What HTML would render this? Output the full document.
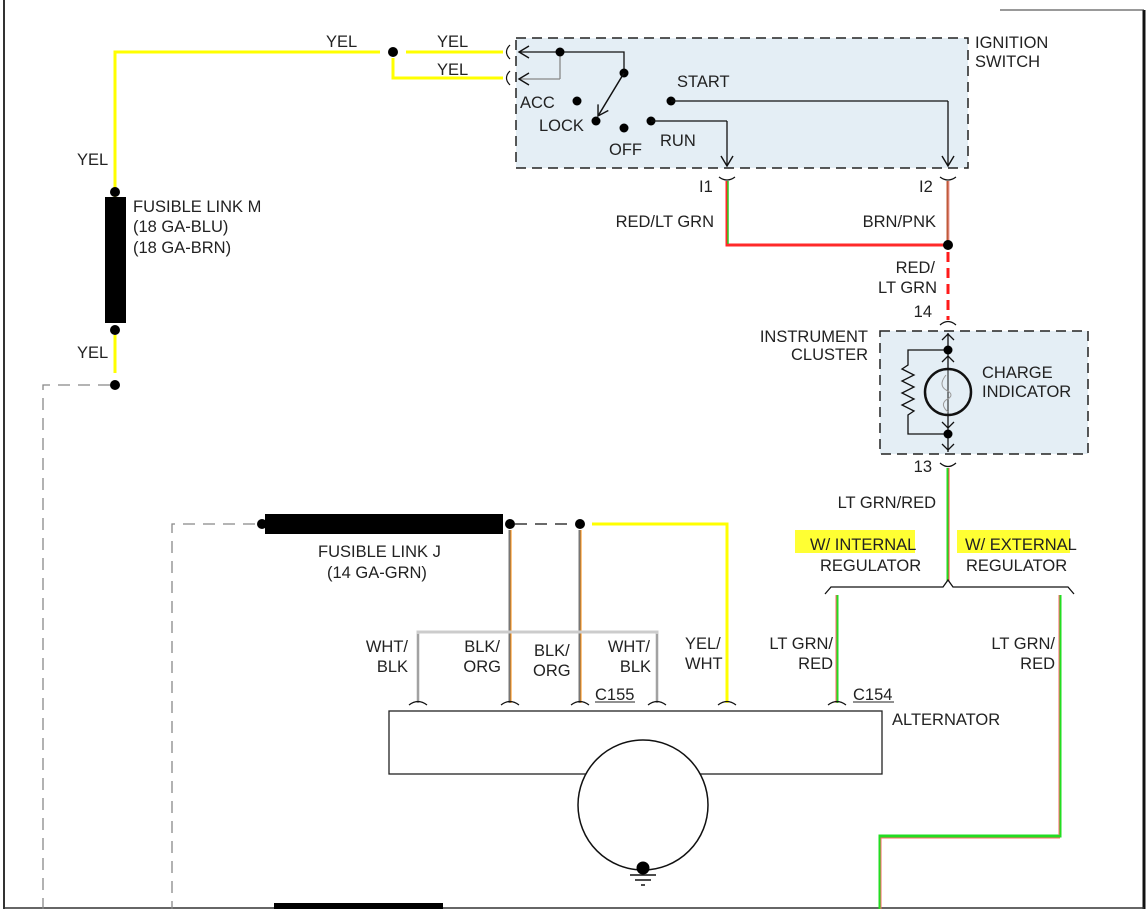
<!DOCTYPE html>
<html><head><meta charset="utf-8"><style>
html,body{margin:0;padding:0;background:#fff}
svg{display:block}
text{font-family:"Liberation Sans",sans-serif;font-size:16.5px;fill:#222}
</style></head><body>
<svg width="1148" height="909" viewBox="0 0 1148 909" xmlns="http://www.w3.org/2000/svg">
<defs>
<marker id="ar" markerWidth="14" markerHeight="14" refX="11" refY="7" orient="auto" markerUnits="userSpaceOnUse">
<path d="M1,1 L11,7 L1,13" fill="none" stroke="#111" stroke-width="1.4"/></marker>
</defs>
<!-- frame -->
<line x1="4" y1="0" x2="4" y2="909" stroke="#333" stroke-width="2"/>
<line x1="1144" y1="10" x2="1144" y2="909" stroke="#111" stroke-width="3"/>
<line x1="1000" y1="10" x2="1144" y2="10" stroke="#333" stroke-width="1"/>
<line x1="4" y1="908" x2="1144" y2="908" stroke="#333" stroke-width="1.5"/>
<rect x="274" y="903" width="169" height="6" fill="#000"/>

<!-- yellow top wires -->
<polyline points="115,197 115,52 380,52" fill="none" stroke="#ffff00" stroke-width="3"/>
<line x1="406" y1="52" x2="503" y2="52" stroke="#ffff00" stroke-width="3"/>
<polyline points="393,58 393,78 503,78" fill="none" stroke="#ffff00" stroke-width="3"/>
<circle cx="393" cy="52" r="5" fill="#000"/>
<path d="M510,45 Q503,52 510,59 M510,71 Q503,78 510,85" fill="none" stroke="#111" stroke-width="1.2"/>
<text x="326" y="47">YEL</text><text x="437" y="47">YEL</text><text x="437" y="75">YEL</text>
<text x="77" y="165">YEL</text><text x="77" y="358">YEL</text>

<!-- fusible link M -->
<rect x="105" y="197" width="21" height="126" fill="#000"/>
<circle cx="115" cy="192" r="5" fill="#000"/><circle cx="115" cy="330" r="5" fill="#000"/>
<line x1="115" y1="335" x2="115" y2="373" stroke="#ffff00" stroke-width="3"/>
<circle cx="115" cy="385" r="5" fill="#000"/>
<polyline points="110,385 43,385 43,909" fill="none" stroke="#888" stroke-width="1.3" stroke-dasharray="12,8"/>
<text x="133" y="212">FUSIBLE LINK M</text><text x="133" y="232">(18 GA-BLU)</text><text x="133" y="253">(18 GA-BRN)</text>

<!-- ignition switch -->
<rect x="516" y="38" width="452" height="130" fill="#e4eef5" stroke="#222" stroke-width="1.5" stroke-dasharray="10,6"/>
<text x="975" y="48">IGNITION</text><text x="975" y="67">SWITCH</text>
<line x1="560" y1="52" x2="519" y2="52" stroke="#111" stroke-width="1.3" marker-end="url(#ar)"/>
<polyline points="560,52 624,52 624,73" fill="none" stroke="#111" stroke-width="1.3"/>
<polyline points="560,52 560,79" fill="none" stroke="#888" stroke-width="1.3"/>
<line x1="560" y1="79" x2="519" y2="79" stroke="#888" stroke-width="1.3" marker-end="url(#ar)"/>
<circle cx="560" cy="52" r="4.5" fill="#000"/><circle cx="624" cy="73" r="4.5" fill="#000"/>
<line x1="624" y1="73" x2="598" y2="116" stroke="#111" stroke-width="1.5" marker-end="url(#ar)"/>
<circle cx="596" cy="121" r="4.5" fill="#000"/>
<circle cx="577" cy="101" r="4.5" fill="#000"/><circle cx="624" cy="128" r="4.5" fill="#000"/>
<circle cx="651" cy="121" r="4.5" fill="#000"/><circle cx="671" cy="101" r="4.5" fill="#000"/>
<polyline points="671,101 948,101" fill="none" stroke="#111" stroke-width="1.3"/>
<line x1="948" y1="101" x2="948" y2="166" stroke="#111" stroke-width="1.3" marker-end="url(#ar)"/>
<polyline points="651,121 727,121" fill="none" stroke="#111" stroke-width="1.3"/>
<line x1="727" y1="121" x2="727" y2="166" stroke="#111" stroke-width="1.3" marker-end="url(#ar)"/>
<text x="520" y="108">ACC</text><text x="539" y="131">LOCK</text><text x="609" y="155">OFF</text>
<text x="660" y="146">RUN</text><text x="677" y="87">START</text>

<!-- I1 / I2 -->
<path d="M719,177 Q727,183 735,177 M940,177 Q948,183 956,177" fill="none" stroke="#111" stroke-width="1.2"/>
<text x="699" y="192">I1</text><text x="919" y="192">I2</text>
<polyline points="727,181 727,245 948,245" fill="none" stroke="#ff2a2a" stroke-width="3"/>
<polyline points="728,181 728,244" fill="none" stroke="#22cc22" stroke-width="1.5"/>
<line x1="948" y1="181" x2="948" y2="245" stroke="#c05a3a" stroke-width="3"/>
<line x1="949" y1="181" x2="949" y2="245" stroke="#f0a0a0" stroke-width="1"/>
<circle cx="948" cy="245" r="5" fill="#000"/>
<line x1="948" y1="252" x2="948" y2="320" stroke="#ff1a1a" stroke-width="3" stroke-dasharray="10,6"/>
<text x="714" y="227" text-anchor="end">RED/LT GRN</text><text x="936" y="227" text-anchor="end">BRN/PNK</text>
<text x="935" y="273" text-anchor="end">RED/</text><text x="937" y="293" text-anchor="end">LT GRN</text>
<text x="932" y="317" text-anchor="end">14</text>
<path d="M940,325 Q948,318 956,325" fill="none" stroke="#111" stroke-width="1.2"/>

<!-- instrument cluster -->
<rect x="880" y="331" width="208" height="123" fill="#e4eef5" stroke="#222" stroke-width="1.5" stroke-dasharray="10,6"/>
<text x="868" y="342" text-anchor="end">INSTRUMENT</text><text x="868" y="360" text-anchor="end">CLUSTER</text>
<line x1="948" y1="333" x2="948" y2="452" stroke="#111" stroke-width="1.3"/>
<path d="M942,340 L948,334 L954,340 M942,362 L948,356 L954,362 M942,422 L948,428 L954,422 M942,444 L948,450 L954,444" fill="none" stroke="#111" stroke-width="1.3"/>
<circle cx="948" cy="392" r="23" fill="#e4eef5" stroke="#111" stroke-width="2.5"/>
<line x1="948" y1="369" x2="948" y2="415" stroke="#111" stroke-width="1"/>
<path d="M946,375 Q938,385 946,390 Q956,395 946,400 Q940,405 948,412" fill="none" stroke="#999" stroke-width="1"/>
<polyline points="948,350 908,350 908,365 902,369 914,375 902,381 914,387 902,393 914,399 902,405 914,411 908,415 908,434 948,434" fill="none" stroke="#111" stroke-width="1.3"/>
<circle cx="948" cy="350" r="4.5" fill="#000"/><circle cx="948" cy="434" r="4.5" fill="#000"/>
<text x="982" y="378">CHARGE</text><text x="982" y="397">INDICATOR</text>
<text x="932" y="472" text-anchor="end">13</text>
<path d="M940,463 Q948,470 956,463" fill="none" stroke="#111" stroke-width="1.2"/>
<line x1="948" y1="468" x2="948" y2="581" stroke="#22dd22" stroke-width="3"/>
<line x1="949" y1="468" x2="949" y2="581" stroke="#ff4444" stroke-width="1"/>
<text x="936" y="508" text-anchor="end">LT GRN/RED</text>

<!-- regulator brace -->
<rect x="795" y="530" width="120" height="23" fill="#ffff33"/>
<rect x="957" y="530" width="113" height="23" fill="#ffff33"/>
<text x="810" y="550">W/ INTERNAL</text><text x="820" y="571">REGULATOR</text>
<text x="965" y="550">W/ EXTERNAL</text><text x="966" y="571">REGULATOR</text>
<polyline points="825,594 831,587 943,587 948,580 953,587 1068,587 1074,594" fill="none" stroke="#111" stroke-width="1.3"/>
<line x1="837" y1="595" x2="837" y2="703" stroke="#22dd22" stroke-width="3"/>
<line x1="836" y1="595" x2="836" y2="703" stroke="#ff6666" stroke-width="1"/>
<polyline points="1060,595 1060,836 880,836 880,909" fill="none" stroke="#22dd22" stroke-width="3"/>
<polyline points="1059,595 1059,835" fill="none" stroke="#ff6666" stroke-width="1"/>
<polyline points="881,909 881,838 1060,838" fill="none" stroke="#ff6666" stroke-width="1"/>
<text x="833" y="649" text-anchor="end">LT GRN/</text><text x="833" y="669" text-anchor="end">RED</text>
<text x="1055" y="649" text-anchor="end">LT GRN/</text><text x="1055" y="669" text-anchor="end">RED</text>

<!-- fusible link J -->
<polyline points="255,524 172,524 172,909" fill="none" stroke="#888" stroke-width="1.3" stroke-dasharray="12,8"/>
<rect x="265" y="514" width="238" height="20" fill="#000"/>
<circle cx="262" cy="524" r="5" fill="#000"/><circle cx="510" cy="524" r="5" fill="#000"/>
<line x1="515" y1="524" x2="575" y2="524" stroke="#111" stroke-width="1.3" stroke-dasharray="12,8"/>
<circle cx="580" cy="524" r="5" fill="#000"/>
<polyline points="592,524 727,524 727,703" fill="none" stroke="#ffff00" stroke-width="3"/>
<text x="318" y="557">FUSIBLE LINK J</text><text x="327" y="578">(14 GA-GRN)</text>
<line x1="510" y1="530" x2="510" y2="703" stroke="#777" stroke-width="3"/>
<line x1="511" y1="530" x2="511" y2="703" stroke="#ff8800" stroke-width="1"/>
<line x1="580" y1="530" x2="580" y2="703" stroke="#777" stroke-width="3"/>
<line x1="581" y1="530" x2="581" y2="703" stroke="#ff8800" stroke-width="1"/>
<polyline points="418,703 418,632 657,632 657,703" fill="none" stroke="#ccc" stroke-width="3"/>
<polyline points="418,703 418,634" fill="none" stroke="#777" stroke-width="1"/>
<polyline points="657,634 657,703" fill="none" stroke="#777" stroke-width="1"/>
<text x="408" y="652" text-anchor="end">WHT/</text><text x="408" y="672" text-anchor="end">BLK</text>
<text x="500" y="652" text-anchor="end">BLK/</text><text x="501" y="672" text-anchor="end">ORG</text>
<text x="534" y="656">BLK/</text><text x="533" y="676">ORG</text>
<text x="650" y="652" text-anchor="end">WHT/</text><text x="651" y="672" text-anchor="end">BLK</text>
<text x="685" y="649">YEL/</text><text x="685" y="669">WHT</text>
<text x="595" y="700">C155</text><line x1="595" y1="702" x2="635" y2="702" stroke="#222"/>
<text x="853" y="700">C154</text><line x1="853" y1="702" x2="894" y2="702" stroke="#222"/>

<!-- connectors at alternator -->
<path d="M409,705 Q418,698 427,705 M501,705 Q510,698 519,705 M571,705 Q580,698 589,705 M648,705 Q657,698 666,705 M718,705 Q727,698 736,705 M828,705 Q837,698 846,705" fill="none" stroke="#111" stroke-width="1.2"/>

<!-- alternator -->
<rect x="389" y="711" width="493" height="63" fill="#fff" stroke="#222" stroke-width="1.3"/>
<text x="892" y="725">ALTERNATOR</text>
<circle cx="643" cy="805" r="65" fill="#fff" stroke="#111" stroke-width="1.5"/>
<circle cx="643" cy="868" r="6.5" fill="#000"/>
<line x1="630" y1="875" x2="656" y2="875" stroke="#111" stroke-width="1.5"/>
<line x1="635" y1="880" x2="651" y2="880" stroke="#111" stroke-width="1.5"/>
<line x1="641" y1="885" x2="645" y2="885" stroke="#111" stroke-width="1.5"/>
</svg>
</body></html>
